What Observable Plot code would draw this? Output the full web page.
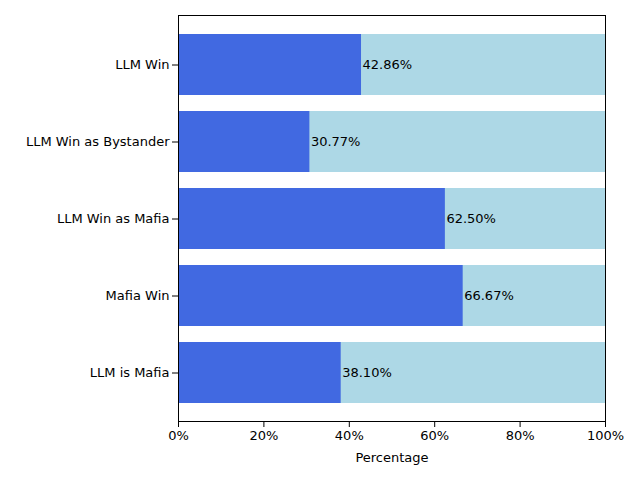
<!DOCTYPE html>
<html><head><meta charset="utf-8">
<script src="https://cdn.jsdelivr.net/npm/d3@7"></script>
<script src="https://cdn.jsdelivr.net/npm/@observablehq/plot@0.6"></script>
<style>body{margin:0;background:#fff}</style>
</head><body><div id="chart"></div>
<script>
const categories = ["LLM Win", "LLM Win as Bystander", "LLM Win as Mafia", "Mafia Win", "LLM is Mafia"]
const values = [42.86, 30.77, 62.50, 66.67, 38.10]
const xTicks = [0, 20, 40, 60, 80, 100]

const data = categories.map((c, i) => ({cat: c, value: values[i], total: 100}))

const chart = Plot.plot({
  width: 640,
  height: 480,
  marginLeft: 178,
  marginRight: 35,
  marginTop: 15,
  marginBottom: 59,
  style: {fontFamily: "DejaVu Sans", fontSize: "13px", color: "black"},
  x: {domain: [0, 100], ticks: xTicks, tickFormat: d => d + "%", label: "Percentage", labelAnchor: "center", labelArrow: "none", labelOffset: 40},
  y: {domain: categories, paddingInner: 0.21, paddingOuter: 0.23, label: null},
  marks: [
    Plot.barX(data, {y: "cat", x: "total", fill: "lightblue"}),
    Plot.barX(data, {y: "cat", x: "value", fill: "royalblue"}),
    Plot.text(data, {y: "cat", x: "value", text: d => d.value.toFixed(2) + "%", textAnchor: "start", dx: 1, fill: "black", fontSize: 13}),
    Plot.frame({stroke: "black"})
  ]
})
document.getElementById("chart").append(chart)
</script>
</body></html>
